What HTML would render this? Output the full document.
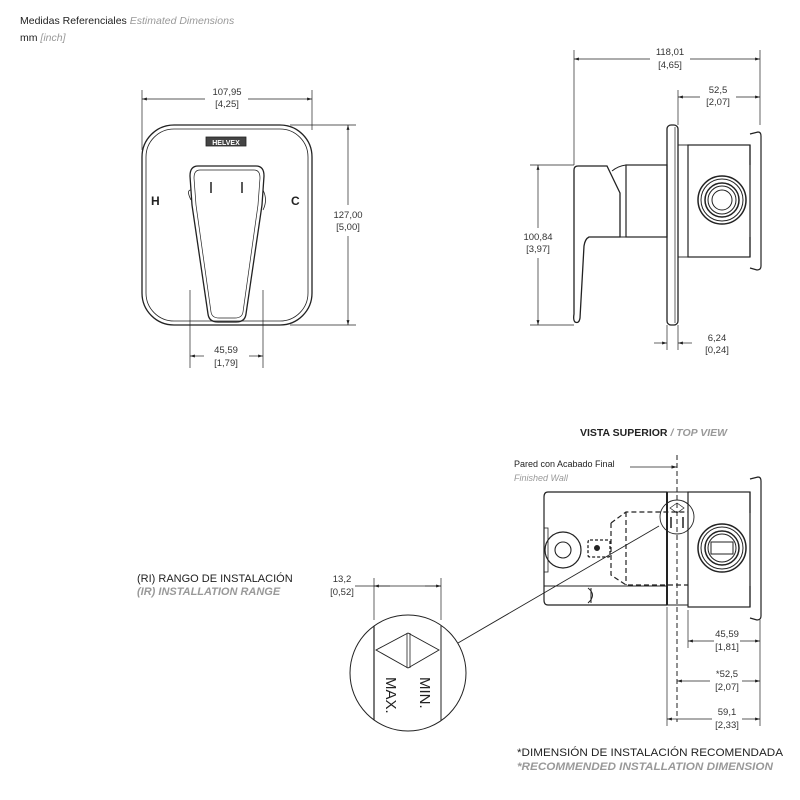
<!DOCTYPE html>
<html><head><meta charset="utf-8"><style>
html,body{margin:0;padding:0;background:#fff;width:800px;height:800px;overflow:hidden}
svg{display:block}
text{font-family:"Liberation Sans",sans-serif;fill:#222}
.d{font-size:9.5px;text-anchor:middle;fill:#333}
.g{fill:#999;font-style:italic}
</style></head><body>
<svg width="800" height="800" viewBox="0 0 800 800" xmlns="http://www.w3.org/2000/svg">
<defs>
<marker id="a" viewBox="0 0 10 10" refX="10" refY="5" markerWidth="7" markerHeight="7" orient="auto-start-reverse"><path d="M0,2 L10,5 L0,8 z" fill="#222"/></marker>
<clipPath id="cc"><circle cx="408" cy="673" r="58"/></clipPath>
</defs>
<text x="20" y="24" font-size="10.5">Medidas Referenciales <tspan class="g">Estimated Dimensions</tspan></text>
<text x="20" y="41" font-size="10.5">mm <tspan class="g">[inch]</tspan></text>

<g fill="none" stroke="#222" stroke-width="1">
<rect x="142" y="125" width="170" height="200" rx="32" stroke-width="1.3"/>
<rect x="146" y="129" width="162" height="192" rx="28" stroke-width="0.8"/>
<line x1="142" y1="90" x2="142" y2="150" stroke-width="0.7"/>
<line x1="312" y1="90" x2="312" y2="130" stroke-width="0.7"/>
<line x1="142" y1="99" x2="205" y2="99" marker-start="url(#a)" stroke-width="0.7"/>
<line x1="248" y1="99" x2="312" y2="99" marker-end="url(#a)" stroke-width="0.7"/>
<line x1="290" y1="125" x2="356" y2="125" stroke-width="0.7"/>
<line x1="290" y1="325" x2="356" y2="325" stroke-width="0.7"/>
<line x1="348" y1="125" x2="348" y2="205" marker-start="url(#a)" stroke-width="0.7"/>
<line x1="348" y1="236" x2="348" y2="325" marker-end="url(#a)" stroke-width="0.7"/>
<rect x="206" y="137" width="40" height="9" fill="#444" stroke-width="0.8"/>
<path d="M191,200 Q186,190 191,190 M263,190 Q268,200 263,210" stroke-width="0.8"/>
<path d="M198,166 L256,166 Q264,166 264,176 L262,205 L246,314 Q245,322 236,322 L218,322 Q209,322 208,314 L192,205 L190,176 Q190,166 198,166 Z" stroke-width="1.3"/>
<path d="M200,170 L254,170 Q260,170 260,178 L258,205 L243,312 Q242,318 235,318 L219,318 Q212,318 211,312 L196,205 L194,178 Q194,170 200,170 Z" stroke-width="0.7"/>
<line x1="211" y1="182" x2="211" y2="193" stroke-width="1.5"/>
<line x1="242" y1="182" x2="242" y2="193" stroke-width="1.5"/>
<line x1="190" y1="290" x2="190" y2="368" stroke-width="0.7"/>
<line x1="263" y1="290" x2="263" y2="368" stroke-width="0.7"/>
<line x1="190" y1="356" x2="204" y2="356" marker-start="url(#a)" stroke-width="0.7"/>
<line x1="249" y1="356" x2="263" y2="356" marker-end="url(#a)" stroke-width="0.7"/>

<line x1="574" y1="50" x2="574" y2="165" stroke-width="0.7"/>
<line x1="760" y1="50" x2="760" y2="125" stroke-width="0.7"/>
<line x1="574" y1="59" x2="650" y2="59" marker-start="url(#a)" stroke-width="0.7"/>
<line x1="690" y1="59" x2="760" y2="59" marker-end="url(#a)" stroke-width="0.7"/>
<line x1="678" y1="90" x2="678" y2="125" stroke-width="0.7"/>
<line x1="678" y1="97" x2="700" y2="97" marker-start="url(#a)" stroke-width="0.7"/>
<line x1="736" y1="97" x2="760" y2="97" marker-end="url(#a)" stroke-width="0.7"/>
<rect x="667" y="125" width="11" height="200" rx="4" stroke-width="1.3"/>
<line x1="675" y1="127" x2="675" y2="323" stroke-width="0.7"/>
<rect x="678" y="145" width="10" height="112" stroke-width="0.9"/>
<rect x="688" y="145" width="62" height="112" stroke-width="1.2"/>
<path d="M750,134 L758,132 Q761,132 761,136 L761,266 Q761,270 757,270 L750,268 M750,145 L750,165 M750,237 L750,257" stroke-width="1.2"/>
<circle cx="722" cy="200" r="24" stroke-width="1.5"/>
<circle cx="722" cy="200" r="21" stroke-width="1"/>
<circle cx="722" cy="200" r="17" stroke-width="1.5"/>
<circle cx="722" cy="200" r="14" stroke-width="1"/>
<circle cx="722" cy="200" r="10" stroke-width="1"/>
<rect x="626" y="165" width="41" height="72" stroke-width="1.2"/>
<path d="M612,171 Q618,166 626,165 L626,237 L620,237" stroke-width="1"/>
<path d="M578,166 L607,166 L620,193 L620,237 L589,237 Q585,239 584,246 L580,318 Q579,324 575,322 Q573,320 574,314 L574,170 Q574,166 578,166 Z" stroke-width="1.3"/>
<line x1="530" y1="165" x2="574" y2="165" stroke-width="0.7"/>
<line x1="530" y1="325" x2="574" y2="325" stroke-width="0.7"/>
<line x1="538" y1="165" x2="538" y2="228" marker-start="url(#a)" stroke-width="0.7"/>
<line x1="538" y1="258" x2="538" y2="325" marker-end="url(#a)" stroke-width="0.7"/>
<line x1="667" y1="325" x2="667" y2="350" stroke-width="0.7"/>
<line x1="678" y1="325" x2="678" y2="350" stroke-width="0.7"/>
<line x1="654" y1="343" x2="667" y2="343" marker-end="url(#a)" stroke-width="0.7"/>
<line x1="692" y1="343" x2="678" y2="343" marker-end="url(#a)" stroke-width="0.7"/>

<path d="M667,492 L548,492 Q544,492 544,497 L544,600 Q544,605 548,605 L667,605" stroke-width="1.2"/>
<line x1="667" y1="492" x2="667" y2="605" stroke-width="2"/>
<line x1="667" y1="492" x2="688" y2="492" stroke-width="1"/>
<line x1="667" y1="605" x2="688" y2="605" stroke-width="1"/>
<rect x="688" y="492" width="62" height="115" stroke-width="1.2"/>
<path d="M750,479 L758,477 Q761,477 761,481 L761,616 Q761,620 757,620 L750,618 M750,492 L750,513 M750,586 L750,607" stroke-width="1.2"/>
<line x1="677" y1="455" x2="677" y2="722" stroke-dasharray="5,3" stroke-width="1"/>
<rect x="544" y="528" width="4" height="44" stroke-width="0.8"/>
<circle cx="563" cy="550" r="18" stroke-width="1.2"/>
<circle cx="563" cy="550" r="8" stroke-width="1.1"/>
<rect x="588" y="540" width="22" height="17" rx="2" stroke-dasharray="3,2" stroke-width="1.3"/>
<circle cx="597" cy="548" r="2.5" fill="#222"/>
<path d="M611,523 L626,512 L688,512 M611,523 L611,575 L626,585 L688,585 M626,512 L626,585" stroke-dasharray="5,3" stroke-width="1.2"/>
<line x1="544" y1="586" x2="667" y2="586" stroke-width="1"/>
<path d="M588,588 Q597,595 588,603 M591,588 L591,603" stroke-width="1"/>
<circle cx="722" cy="548" r="24" stroke-width="1.5"/>
<circle cx="722" cy="548" r="21" stroke-width="1"/>
<circle cx="722" cy="548" r="17" stroke-width="1.5"/>
<circle cx="722" cy="548" r="14" stroke-width="1"/>
<rect x="711" y="542" width="22" height="12" stroke-width="1"/>
<circle cx="677" cy="517" r="17" stroke-width="0.9"/>
<path d="M670,508 L677,503 L684,508 L677,513 Z" stroke-width="0.7"/>
<line x1="671" y1="517" x2="671" y2="528" stroke-width="1.5"/>
<line x1="683" y1="517" x2="683" y2="528" stroke-width="1.5"/>
<line x1="659" y1="526" x2="458" y2="643" stroke-width="0.9"/>
<line x1="630" y1="467" x2="677" y2="467" marker-end="url(#a)" stroke-width="0.8"/>
<line x1="688" y1="610" x2="688" y2="648" stroke-width="0.7"/>
<line x1="760" y1="620" x2="760" y2="726" stroke-width="0.7"/>
<line x1="667" y1="607" x2="667" y2="726" stroke-width="0.7"/>
<line x1="688" y1="641" x2="714" y2="641" marker-start="url(#a)" stroke-width="0.7"/>
<line x1="740" y1="641" x2="760" y2="641" marker-end="url(#a)" stroke-width="0.7"/>
<line x1="677" y1="681" x2="710" y2="681" marker-start="url(#a)" stroke-width="0.7"/>
<line x1="742" y1="681" x2="760" y2="681" marker-end="url(#a)" stroke-width="0.7"/>
<line x1="667" y1="719" x2="712" y2="719" marker-start="url(#a)" stroke-width="0.7"/>
<line x1="742" y1="719" x2="760" y2="719" marker-end="url(#a)" stroke-width="0.7"/>

<circle cx="408" cy="673" r="58" stroke-width="1"/>
<g clip-path="url(#cc)">
<line x1="374" y1="600" x2="374" y2="740" stroke-width="1.2"/>
<line x1="441" y1="600" x2="441" y2="740" stroke-width="1"/>
</g>
<path d="M376,650 L408,633 L439,650 L408,668 Z" stroke-width="0.9"/>
<line x1="407" y1="633" x2="407" y2="668" stroke-width="0.8"/>
<line x1="410" y1="633" x2="410" y2="668" stroke-width="0.8"/>
<line x1="374" y1="578" x2="374" y2="620" stroke-width="0.7"/>
<line x1="441" y1="578" x2="441" y2="620" stroke-width="0.7"/>
<line x1="355" y1="586" x2="441" y2="586" stroke-width="0.7"/>
<line x1="390" y1="586" x2="374" y2="586" marker-end="url(#a)" stroke-width="0.7"/>
<line x1="425" y1="586" x2="441" y2="586" marker-end="url(#a)" stroke-width="0.7"/>
</g>

<text class="d" x="227" y="95">107,95</text><text class="d" x="227" y="107">[4,25]</text>
<text class="d" x="348" y="218">127,00</text><text class="d" x="348" y="230">[5,00]</text>
<text class="d" x="226" y="353">45,59</text><text class="d" x="226" y="366">[1,79]</text>
<text x="151" y="205" font-size="12" font-weight="bold" fill="#444">H</text>
<text x="291" y="205" font-size="12" font-weight="bold" fill="#444">C</text>
<text x="226" y="145" font-size="7" font-weight="bold" text-anchor="middle" style="fill:#fff">HELVEX</text>
<text class="d" x="670" y="55">118,01</text><text class="d" x="670" y="68">[4,65]</text>
<text class="d" x="718" y="93">52,5</text><text class="d" x="718" y="105">[2,07]</text>
<text class="d" x="538" y="240">100,84</text><text class="d" x="538" y="252">[3,97]</text>
<text class="d" x="717" y="341">6,24</text><text class="d" x="717" y="353">[0,24]</text>
<text x="580" y="436" font-size="10.5" font-weight="bold">VISTA SUPERIOR <tspan class="g">/ TOP VIEW</tspan></text>
<text x="514" y="467" font-size="9">Pared con Acabado Final</text>
<text x="514" y="481" font-size="9" class="g">Finished Wall</text>
<text class="d" x="727" y="637">45,59</text><text class="d" x="727" y="650">[1,81]</text>
<text class="d" x="727" y="677">*52,5</text><text class="d" x="727" y="690">[2,07]</text>
<text class="d" x="727" y="715">59,1</text><text class="d" x="727" y="728">[2,33]</text>
<text x="137" y="582" font-size="11">(RI)  RANGO DE INSTALACIÓN</text>
<text x="137" y="595" font-size="11" font-weight="bold" class="g">(IR)  INSTALLATION RANGE</text>
<text class="d" x="342" y="582">13,2</text><text class="d" x="342" y="595">[0,52]</text>
<text x="0" y="0" font-size="15" transform="translate(386,677) rotate(90)">MAX.</text>
<text x="0" y="0" font-size="15" transform="translate(420,677) rotate(90)">MIN.</text>
<text x="517" y="756" font-size="11" textLength="266" lengthAdjust="spacingAndGlyphs">*DIMENSIÓN DE INSTALACIÓN RECOMENDADA</text>
<text x="517" y="770" font-size="11" font-weight="bold" class="g" textLength="256" lengthAdjust="spacingAndGlyphs">*RECOMMENDED INSTALLATION DIMENSION</text>
</svg>
</body></html>
